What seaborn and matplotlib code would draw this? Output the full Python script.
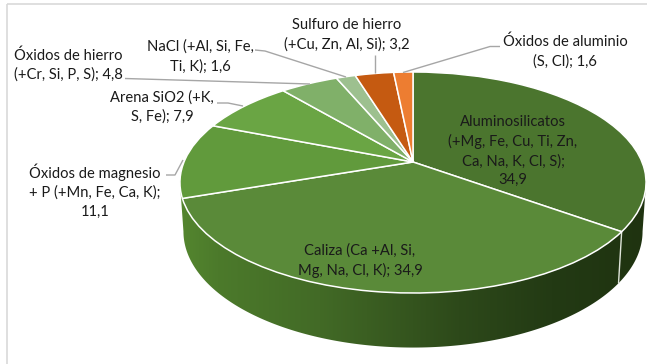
import numpy as np
import matplotlib
matplotlib.use("Agg")
import matplotlib.pyplot as plt
from matplotlib.transforms import Transform
from matplotlib.patches import Polygon, Rectangle
from matplotlib.colors import LinearSegmentedColormap
import seaborn as sns

sns.set_style("white")
plt.rcParams['font.family'] = ['Lato', 'DejaVu Sans']

# Data
names = ["Aluminosilicatos\n(+Mg, Fe, Cu, Ti, Zn,\nCa, Na, K, Cl, S);\n34,9",
         "Caliza (Ca +Al, Si,\nMg, Na, Cl, K); 34,9",
         "Óxidos de magnesio\n+ P (+Mn, Fe, Ca, K);\n11,1",
         "Arena SiO2 (+K,\nS, Fe); 7,9",
         "Óxidos de hierro\n(+Cr, Si, P, S); 4,8",
         "NaCl (+Al, Si, Fe,\nTi, K); 1,6",
         "Sulfuro de hierro\n(+Cu, Zn, Al, Si); 3,2",
         "Óxidos de aluminio\n(S, Cl); 1,6"]
values = [34.9, 34.9, 11.1, 7.9, 4.8, 1.6, 3.2, 1.6]
colors = ["#4b752e", "#5a8a39", "#619a3c", "#6aa544", "#80b069", "#9dc08f", "#c55a11", "#ed7d31"]
label_pos = [(513, 151), (360, 260.5), (95, 191), (162, 107), (68, 65), (200, 56.5), (347, 35), (565, 51.5)]
leaders = [None, None,
           [(166, 175), (175, 175), (183, 160)],
           [(217, 103), (228, 103), (243, 106)],
           [(125, 78.5), (310, 84)],
           [(255, 50), (265, 51), (346, 77)],
           [(374.5, 55), (374.5, 73)],
           [(500, 46.5), (490, 46.5), (403, 72.5)]]

CX, CY = 413.0, 162.0
R, A, K = 229.0, 106.7, 0.1855


class Persp(Transform):
    """Tilted-disc perspective: unit disc -> picture pixels."""
    input_dims = output_dims = 2
    is_separable = False
    has_inverse = False

    def __init__(self, dy=0.0, sx=1.0, sy=1.0):
        super().__init__()
        self.dy, self.sx, self.sy = dy, sx, sy

    def transform_non_affine(self, values):
        v = np.asarray(values, float)
        w = 1 + K * v[:, 1]
        return np.column_stack([CX + self.sx * R * v[:, 0] / w,
                                CY + self.dy - self.sy * A * v[:, 1] / w])


top = Persp()
low = Persp(dy=48, sx=0.985, sy=1.05)

fig = plt.figure(figsize=(6.47, 3.64), dpi=100, facecolor="white")
ax = fig.add_axes([0, 0, 1, 1])

wedges, _ = ax.pie(values, colors=colors, startangle=90, counterclock=False,
                   radius=1, center=(0, 0),
                   wedgeprops=dict(edgecolor="white", linewidth=1.1))
for w in wedges:
    w.set_transform(top + ax.transData)
    w.set_zorder(5)

# Side wall: silhouette between the lower disc and the top disc, with shading
edge = np.arcsin(K)
t = np.linspace(np.pi + edge, 2 * np.pi - edge, 500)
arc = np.column_stack([np.cos(t), np.sin(t)])
low_pts = low.transform_non_affine(arc)
top_pts = top.transform_non_affine(arc)
sil = np.vstack([low_pts[::-1], top_pts])
clip = Polygon(sil, closed=True, transform=ax.transData, facecolor="none", edgecolor="none")
ax.add_patch(clip)
cmap = LinearSegmentedColormap.from_list("wall", [(0, "#54862f"), (0.08, "#4c7a2b"), (0.3, "#426a26"),
                                                  (0.6, "#2d491a"), (0.8, "#233a14"), (1, "#1f3310")])
img = ax.imshow(np.linspace(0, 1, 256)[None, :], cmap=cmap, extent=(180, 646, 364, 0),
                aspect="auto", zorder=2, interpolation="bilinear")
img.set_clip_path(clip)

# Wall seam at the end of the first slice
ang = np.deg2rad(90 - 3.6 * np.cumsum(values)[0])
p = np.array([[np.cos(ang), np.sin(ang)]])
a, b = top.transform_non_affine(p)[0], low.transform_non_affine(p)[0]
ax.plot([a[0], b[0]], [a[1], b[1]], color="#dfe5da", lw=1.0, zorder=3)

# Labels and leader lines
for name, (x, y), lead in zip(names, label_pos, leaders):
    ax.text(x, y, name, ha="center", va="center", fontsize=10.6, color="#1a1a1a",
            linespacing=1.42, zorder=7)
    if lead:
        ax.plot(*zip(*lead), color="#a6a6a6", lw=1.0, zorder=6, solid_capstyle="butt")

ax.set_aspect("auto")
ax.set_xlim(0, 647)
ax.set_ylim(364, 0)
ax.set_frame_on(False)
ax.add_patch(Rectangle((7, 3.5), 700, 500, fill=False, edgecolor="#d9d9d9", lw=1.2, zorder=1))

fig.savefig("out.png", dpi=100, facecolor="white")
